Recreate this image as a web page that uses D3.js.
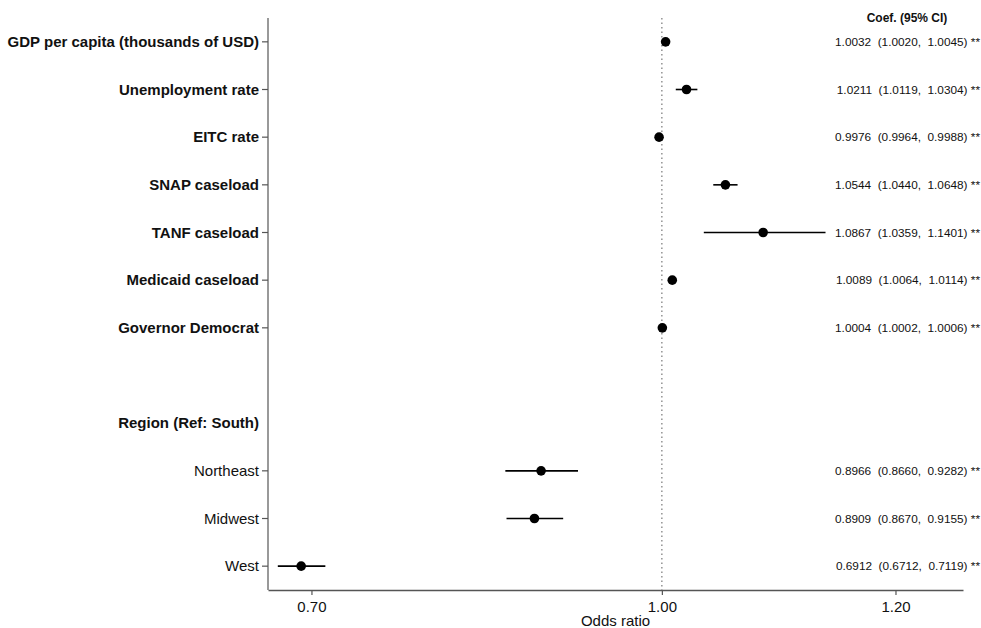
<!DOCTYPE html>
<html>
<head>
<meta charset="utf-8">
<script src="https://cdn.jsdelivr.net/npm/d3@7"></script>
<style>
  html, body { margin: 0; padding: 0; background: #fff; }
  svg { display: block; font-family: "Liberation Sans", Arial, sans-serif; }
</style>
</head>
<body>
<svg id="chart" width="981" height="628"></svg>
<script>
// ---- Data ----
const rowLabels = [
  "GDP per capita (thousands of USD)",
  "Unemployment rate",
  "EITC rate",
  "SNAP caseload",
  "TANF caseload",
  "Medicaid caseload",
  "Governor Democrat",
  "",
  "Region (Ref: South)",
  "Northeast",
  "Midwest",
  "West"
];
const boldRows = [true, true, true, true, true, true, true, false, true, false, false, false];
const estimates = [1.0032, 1.0211, 0.9976, 1.0544, 1.0867, 1.0089, 1.0004, null, null, 0.8966, 0.8909, 0.6912];
const lowerCI   = [1.0020, 1.0119, 0.9964, 1.0440, 1.0359, 1.0064, 1.0002, null, null, 0.8660, 0.8670, 0.6712];
const upperCI   = [1.0045, 1.0304, 0.9988, 1.0648, 1.1401, 1.0114, 1.0006, null, null, 0.9282, 0.9155, 0.7119];
const signif    = ["**", "**", "**", "**", "**", "**", "**", "", "", "**", "**", "**"];
const xTicks = [0.70, 1.00, 1.20];
const xDomain = [0.6628, 1.2578];
const refValue = 1.00;

// ---- Layout ----
const svg = d3.select("#chart");
const mLeft = 268, mRight = 963, mTop = 18, mBottom = 590;

const x = d3.scaleLinear().domain(xDomain).range([mLeft, mRight]);
const y = d3.scaleBand().domain(d3.range(rowLabels.length)).range([mTop, mBottom]);
const yc = i => y(i) + y.bandwidth() / 2;

const rows = rowLabels.map((label, i) => ({
  i, label, bold: boldRows[i], est: estimates[i], lo: lowerCI[i], hi: upperCI[i], sig: signif[i]
}));
const dataRows = rows.filter(d => d.est != null);

// reference line
svg.append("line")
  .attr("x1", x(refValue)).attr("x2", x(refValue))
  .attr("y1", mTop).attr("y2", mBottom)
  .attr("stroke", "#777").attr("stroke-width", 1.2)
  .attr("stroke-dasharray", "1.5,3");

// x axis
const xAxis = d3.axisBottom(x).tickValues(xTicks).tickFormat(d3.format(".2f")).tickSize(5).tickSizeOuter(0);
const gx = svg.append("g").attr("transform", `translate(0,${mBottom})`).call(xAxis);
gx.select(".domain").attr("stroke", "#555").attr("stroke-width", 1.3);
gx.selectAll(".tick line").attr("stroke", "#555").attr("stroke-width", 1.2);
gx.selectAll(".tick text").attr("font-size", 15).attr("fill", "#111")
  .attr("font-family", "Liberation Sans, Arial, sans-serif").attr("dy", "0.9em");

svg.append("text")
  .attr("x", (mLeft + mRight) / 2).attr("y", 626)
  .attr("text-anchor", "middle").attr("font-size", 15).attr("fill", "#111")
  .text("Odds ratio");

// y axis line
svg.append("line")
  .attr("x1", mLeft).attr("x2", mLeft).attr("y1", mTop).attr("y2", mBottom)
  .attr("stroke", "#777").attr("stroke-width", 1.5);

// y ticks for data rows
svg.selectAll(".ytick").data(dataRows).join("line")
  .attr("class", "ytick")
  .attr("x1", mLeft - 6).attr("x2", mLeft)
  .attr("y1", d => yc(d.i)).attr("y2", d => yc(d.i))
  .attr("stroke", "#555").attr("stroke-width", 1.2);

// row labels
svg.selectAll(".ylab").data(rows.filter(d => d.label)).join("text")
  .attr("class", "ylab")
  .attr("x", mLeft - 9).attr("y", d => yc(d.i)).attr("dy", "0.35em")
  .attr("text-anchor", "end")
  .attr("font-size", 15)
  .attr("font-weight", d => d.bold ? "bold" : "normal")
  .attr("fill", "#111")
  .text(d => d.label);

// CI lines
svg.selectAll(".ci").data(dataRows).join("line")
  .attr("class", "ci")
  .attr("x1", d => x(d.lo)).attr("x2", d => x(d.hi))
  .attr("y1", d => yc(d.i)).attr("y2", d => yc(d.i))
  .attr("stroke", "#000").attr("stroke-width", 1.6);

// points
svg.selectAll(".pt").data(dataRows).join("circle")
  .attr("class", "pt")
  .attr("cx", d => x(d.est)).attr("cy", d => yc(d.i)).attr("r", 4.8)
  .attr("fill", "#000");

// annotations
const f4 = d3.format(".4f");
svg.append("text")
  .attr("x", 907).attr("y", 22)
  .attr("text-anchor", "middle").attr("font-size", 12).attr("font-weight", "bold").attr("fill", "#111")
  .text("Coef. (95% CI)");

svg.selectAll(".ann").data(dataRows).join("text")
  .attr("class", "ann")
  .attr("x", 980).attr("y", d => yc(d.i)).attr("dy", "0.35em")
  .attr("text-anchor", "end").attr("font-size", 11.8).attr("fill", "#111")
  .style("white-space", "pre")
  .text(d => `${f4(d.est)}  (${f4(d.lo)},  ${f4(d.hi)}) ${d.sig}`);
</script>
</body>
</html>
